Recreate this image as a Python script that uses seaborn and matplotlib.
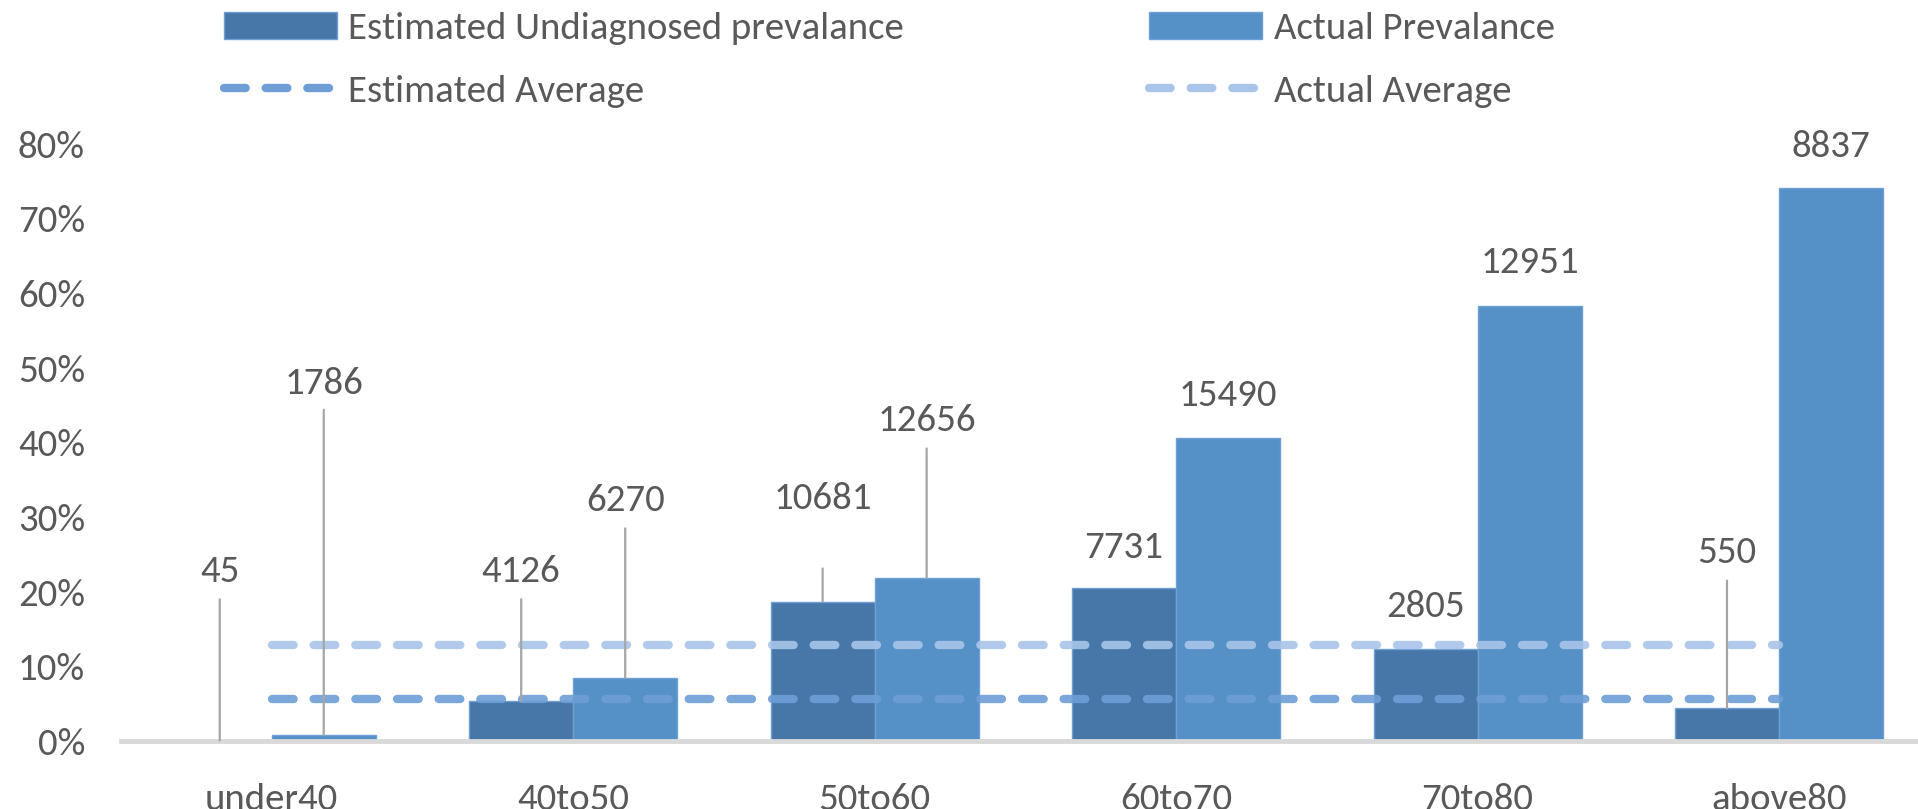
import pandas as pd
import matplotlib
matplotlib.use("Agg")
import matplotlib.pyplot as plt
import seaborn as sns
from matplotlib import font_manager
from matplotlib.lines import Line2D
from matplotlib.patches import Patch

# values
age_groups = ["under40", "40to50", "50to60", "60to70", "70to80", "above80"]
estimated_prev = [0.001, 0.054, 0.187, 0.205, 0.123, 0.044]
actual_prev = [0.008, 0.085, 0.219, 0.406, 0.583, 0.741]
estimated_counts = [45, 4126, 10681, 7731, 2805, 550]
actual_counts = [1786, 6270, 12656, 15490, 12951, 8837]
estimated_avg = 0.057
actual_avg = 0.129

# label heights (in axis units) and whether a leader line is drawn
est_label_y = [0.228, 0.228, 0.325, 0.259, 0.181, 0.253]
act_label_y = [0.480, 0.323, 0.430, 0.464, 0.642, 0.797]
est_leader = [True, True, True, False, False, True]
act_leader = [True, True, True, False, False, False]
# extra gap (points) between label and leader line
est_leader_gap = [6, 6, 36, 0, 0, 6]
act_leader_gap = [5, 6, 6, 0, 0, 0]

DARK = "#4677A8"
LIGHT = "#5591C7"
EST_LINE = "#6E9ED6"
ACT_LINE = "#A9C5E9"
TEXT = "#595959"

sns.set_theme(style="white")


def pick_font(candidates):
    for name in candidates:
        try:
            font_manager.findfont(font_manager.FontProperties(family=name), fallback_to_default=False)
            return name
        except Exception:
            continue
    return "DejaVu Sans"


main_font = pick_font(["Carlito", "Lato", "Liberation Sans"])
plt.rcParams["font.family"] = [main_font, "DejaVu Sans"]

df = pd.DataFrame({
    "age": age_groups * 2,
    "series": ["Estimated Undiagnosed prevalance"] * len(age_groups) + ["Actual Prevalance"] * len(age_groups),
    "value": estimated_prev + actual_prev,
})

fig = plt.figure(figsize=(19.18, 8.09), dpi=100)
ax = fig.add_axes([0.0631, 0.0837, 0.943, 0.738])

sns.barplot(data=df, x="age", y="value", hue="series", palette=[DARK, LIGHT],
            width=0.69, saturation=1, errorbar=None, legend=False, ax=ax,
            edgecolor="#6FA0D4", linewidth=1)

xs = range(len(age_groups))
ax.plot(xs, [estimated_avg] * len(age_groups), color=EST_LINE, lw=6, alpha=0.9,
        dashes=(2.6, 2.4), dash_capstyle="round", zorder=5)
ax.plot(xs, [actual_avg] * len(age_groups), color=ACT_LINE, lw=6, alpha=0.9,
        dashes=(2.6, 2.4), dash_capstyle="round", zorder=5)

label_sets = [
    (ax.containers[0], estimated_counts, est_label_y, est_leader, est_leader_gap),
    (ax.containers[1], actual_counts, act_label_y, act_leader, act_leader_gap),
]
for bars, counts, ys, leads, gaps in label_sets:
    for bar, n, ly, lead, gap in zip(bars, counts, ys, leads, gaps):
        x = bar.get_x() + bar.get_width() / 2
        top = bar.get_height()
        if lead:
            ax.annotate(str(n), xy=(x, top), xytext=(x, ly), ha="center", va="center",
                        fontsize=28, color=TEXT, zorder=6,
                        arrowprops=dict(arrowstyle="-", color="#A6A6A6", lw=1.6,
                                        shrinkA=gap, shrinkB=0))
        else:
            ax.text(x, ly, str(n), ha="center", va="center", fontsize=28, color=TEXT, zorder=6)

ax.set_xlim(-0.5, len(age_groups) - 0.5)
ax.set_ylim(0, 0.8)
ax.set_yticks([i / 10 for i in range(9)])
ax.set_yticklabels([f"{i * 10}%" for i in range(9)], fontsize=28, color=TEXT)
ax.tick_params(axis="y", length=0, pad=26)
ax.tick_params(axis="x", length=0, pad=30, labelsize=28, labelcolor=TEXT)
ax.set_xlabel("")
ax.set_ylabel("")
for side in ["top", "right", "left"]:
    ax.spines[side].set_visible(False)
ax.spines["bottom"].set_color("#D9D9D9")
ax.spines["bottom"].set_linewidth(3.5)

handles = [
    Patch(facecolor=DARK, edgecolor="#6FA0D4"),
    Line2D([], [], color=EST_LINE, lw=6, dashes=(2.6, 2.4), dash_capstyle="round"),
    Patch(facecolor=LIGHT, edgecolor="#6FA0D4"),
    Line2D([], [], color=ACT_LINE, lw=6, dashes=(2.6, 2.4), dash_capstyle="round"),
]
labels = ["Estimated Undiagnosed prevalance", "Estimated Average", "Actual Prevalance", "Actual Average"]
fig.legend(handles, labels, ncol=2, loc="upper left", bbox_to_anchor=(0.1168, 0.985),
           frameon=False, borderpad=0, borderaxespad=0, handlelength=2.9,
           handleheight=0.7, handletextpad=0.3, labelspacing=0.75, columnspacing=6.3,
           prop={"size": 28}, labelcolor=TEXT)

plt.savefig("out.png", dpi=100)
plt.close()
